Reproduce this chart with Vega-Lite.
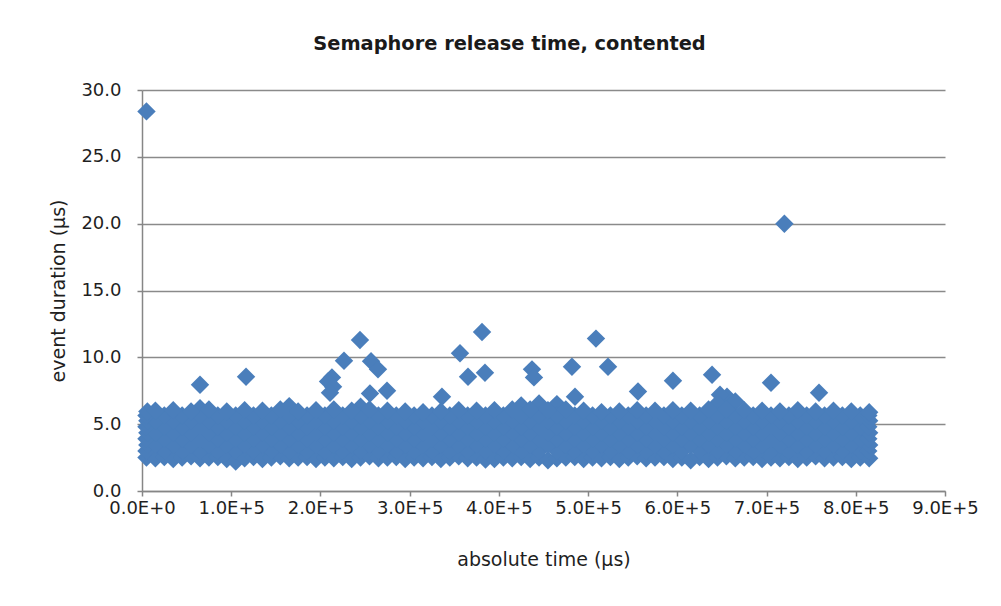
{
  "$schema": "https://vega.github.io/schema/vega-lite/v6.json",
  "width": 803,
  "height": 401,
  "autosize": "none",
  "padding": {"left": 142, "top": 90, "right": 56, "bottom": 115},
  "background": "white",
  "title": {"text": "Semaphore release time, contented", "font": "DejaVu Sans", "fontSize": 19.4, "fontWeight": "bold", "color": "#1a1a1a", "anchor": "middle", "dx": -34, "offset": 27},
  "config": {
    "view": {"stroke": null},
    "axis": {"domainColor": "#868686", "tickColor": "#868686", "gridColor": "#8a8a8a", "domainWidth": 1.5, "tickWidth": 1.5, "gridWidth": 1.5, "tickSize": 5, "labelFont": "DejaVu Sans", "labelFontSize": 18, "labelColor": "#1f1f1f", "titleFont": "DejaVu Sans", "titleFontSize": 19, "titleFontWeight": "normal", "titleColor": "#1f1f1f"}
  },
  "data": {"values": [
    {"time":5000,"dur":28.4},{"time":720000,"dur":20.0},{"time":65000,"dur":7.95},{"time":116600,"dur":8.55},{"time":244300,"dur":11.3},{"time":226400,"dur":9.75},{"time":212900,"dur":8.5},{"time":208500,"dur":8.2},{"time":214100,"dur":7.8},{"time":210700,"dur":7.35},{"time":256700,"dur":9.7},{"time":264500,"dur":9.1},{"time":255500,"dur":7.3},{"time":274600,"dur":7.5},{"time":381100,"dur":11.9},{"time":356400,"dur":10.3},{"time":365400,"dur":8.55},{"time":384400,"dur":8.85},{"time":437100,"dur":9.1},{"time":439300,"dur":8.5},{"time":481900,"dur":9.3},{"time":485300,"dur":7.05},{"time":508800,"dur":11.4},{"time":522300,"dur":9.3},{"time":555900,"dur":7.45},{"time":595100,"dur":8.25},{"time":336200,"dur":7.05},{"time":638900,"dur":8.7},{"time":705000,"dur":8.1},{"time":758800,"dur":7.35},{"time":655700,"dur":7.05},{"time":647800,"dur":7.2},
    {"time":165000,"dur":6.35},{"time":425000,"dur":6.4},{"time":445000,"dur":6.55},{"time":465000,"dur":6.5},{"time":645000,"dur":6.55},{"time":665000,"dur":6.7},{"time":65000,"dur":6.2},{"time":245000,"dur":6.3},
    {"time":5000,"dur":2.5},{"time":15000,"dur":2.45},{"time":25000,"dur":2.55},{"time":35000,"dur":2.4},{"time":45000,"dur":2.5},{"time":55000,"dur":2.6},{"time":65000,"dur":2.45},{"time":75000,"dur":2.5},{"time":85000,"dur":2.55},{"time":95000,"dur":2.4},
    {"time":105000,"dur":2.2},{"time":115000,"dur":2.45},{"time":125000,"dur":2.55},{"time":135000,"dur":2.4},{"time":145000,"dur":2.5},{"time":155000,"dur":2.6},{"time":165000,"dur":2.45},{"time":175000,"dur":2.5},{"time":185000,"dur":2.55},{"time":195000,"dur":2.4},
    {"time":205000,"dur":2.5},{"time":215000,"dur":2.45},{"time":225000,"dur":2.55},{"time":235000,"dur":2.4},{"time":245000,"dur":2.5},{"time":255000,"dur":2.6},{"time":265000,"dur":2.45},{"time":275000,"dur":2.5},{"time":285000,"dur":2.55},{"time":295000,"dur":2.4},
    {"time":305000,"dur":2.5},{"time":315000,"dur":2.45},{"time":325000,"dur":2.55},{"time":335000,"dur":2.4},{"time":345000,"dur":2.5},{"time":355000,"dur":2.6},{"time":365000,"dur":2.45},{"time":375000,"dur":2.5},{"time":385000,"dur":2.35},{"time":395000,"dur":2.4},
    {"time":405000,"dur":2.5},{"time":415000,"dur":2.45},{"time":425000,"dur":2.55},{"time":435000,"dur":2.4},{"time":445000,"dur":2.5},{"time":455000,"dur":2.3},{"time":465000,"dur":2.45},{"time":475000,"dur":2.5},{"time":485000,"dur":2.55},{"time":495000,"dur":2.4},
    {"time":505000,"dur":2.5},{"time":515000,"dur":2.45},{"time":525000,"dur":2.55},{"time":535000,"dur":2.4},{"time":545000,"dur":2.5},{"time":555000,"dur":2.6},{"time":565000,"dur":2.45},{"time":575000,"dur":2.5},{"time":585000,"dur":2.55},{"time":595000,"dur":2.4},
    {"time":605000,"dur":2.5},{"time":615000,"dur":2.3},{"time":625000,"dur":2.55},{"time":635000,"dur":2.4},{"time":645000,"dur":2.5},{"time":655000,"dur":2.6},{"time":665000,"dur":2.45},{"time":675000,"dur":2.5},{"time":685000,"dur":2.55},{"time":695000,"dur":2.4},
    {"time":705000,"dur":2.5},{"time":715000,"dur":2.45},{"time":725000,"dur":2.55},{"time":735000,"dur":2.4},{"time":745000,"dur":2.5},{"time":755000,"dur":2.6},{"time":765000,"dur":2.45},{"time":775000,"dur":2.5},{"time":785000,"dur":2.55},{"time":795000,"dur":2.4},
    {"time":805000,"dur":2.5},{"time":815000,"dur":2.45},
    {"time":5000,"dur":3.0},{"time":25000,"dur":3.0},{"time":45000,"dur":3.0},{"time":65000,"dur":3.0},{"time":85000,"dur":3.0},{"time":105000,"dur":3.0},{"time":125000,"dur":3.0},{"time":145000,"dur":3.0},{"time":165000,"dur":3.0},{"time":185000,"dur":3.0},
    {"time":205000,"dur":3.0},{"time":225000,"dur":3.0},{"time":245000,"dur":3.0},{"time":265000,"dur":3.0},{"time":285000,"dur":3.0},{"time":305000,"dur":3.0},{"time":325000,"dur":3.0},{"time":345000,"dur":3.0},{"time":365000,"dur":3.0},{"time":385000,"dur":3.0},
    {"time":405000,"dur":3.0},{"time":425000,"dur":3.0},{"time":445000,"dur":3.0},{"time":465000,"dur":3.0},{"time":485000,"dur":3.0},{"time":505000,"dur":3.0},{"time":525000,"dur":3.0},{"time":545000,"dur":3.0},{"time":565000,"dur":3.0},{"time":585000,"dur":3.0},
    {"time":605000,"dur":3.0},{"time":625000,"dur":3.0},{"time":645000,"dur":3.0},{"time":665000,"dur":3.0},{"time":685000,"dur":3.0},{"time":705000,"dur":3.0},{"time":725000,"dur":3.0},{"time":745000,"dur":3.0},{"time":765000,"dur":3.0},{"time":785000,"dur":3.0},
    {"time":805000,"dur":3.0},{"time":814000,"dur":3.0},
    {"time":6000,"dur":3.45},{"time":15000,"dur":3.45},{"time":35000,"dur":3.45},{"time":55000,"dur":3.45},{"time":75000,"dur":3.45},{"time":95000,"dur":3.45},{"time":115000,"dur":3.45},{"time":135000,"dur":3.45},{"time":155000,"dur":3.45},{"time":175000,"dur":3.45},
    {"time":195000,"dur":3.45},{"time":215000,"dur":3.45},{"time":235000,"dur":3.45},{"time":255000,"dur":3.45},{"time":275000,"dur":3.45},{"time":295000,"dur":3.45},{"time":315000,"dur":3.45},{"time":335000,"dur":3.45},{"time":355000,"dur":3.45},{"time":375000,"dur":3.45},
    {"time":395000,"dur":3.45},{"time":415000,"dur":3.45},{"time":435000,"dur":3.45},{"time":455000,"dur":3.45},{"time":475000,"dur":3.45},{"time":495000,"dur":3.45},{"time":515000,"dur":3.45},{"time":535000,"dur":3.45},{"time":555000,"dur":3.45},{"time":575000,"dur":3.45},
    {"time":595000,"dur":3.45},{"time":615000,"dur":3.45},{"time":635000,"dur":3.45},{"time":655000,"dur":3.45},{"time":675000,"dur":3.45},{"time":695000,"dur":3.45},{"time":715000,"dur":3.45},{"time":735000,"dur":3.45},{"time":755000,"dur":3.45},{"time":775000,"dur":3.45},
    {"time":795000,"dur":3.45},{"time":815000,"dur":3.45},
    {"time":5000,"dur":3.9},{"time":25000,"dur":3.9},{"time":45000,"dur":3.9},{"time":65000,"dur":3.9},{"time":85000,"dur":3.9},{"time":105000,"dur":3.9},{"time":125000,"dur":3.9},{"time":145000,"dur":3.9},{"time":165000,"dur":3.9},{"time":185000,"dur":3.9},
    {"time":205000,"dur":3.9},{"time":225000,"dur":3.9},{"time":245000,"dur":3.9},{"time":265000,"dur":3.9},{"time":285000,"dur":3.9},{"time":305000,"dur":3.9},{"time":325000,"dur":3.9},{"time":345000,"dur":3.9},{"time":365000,"dur":3.9},{"time":385000,"dur":3.9},
    {"time":405000,"dur":3.9},{"time":425000,"dur":3.9},{"time":445000,"dur":3.9},{"time":465000,"dur":3.9},{"time":485000,"dur":3.9},{"time":505000,"dur":3.9},{"time":525000,"dur":3.9},{"time":545000,"dur":3.9},{"time":565000,"dur":3.9},{"time":585000,"dur":3.9},
    {"time":605000,"dur":3.9},{"time":625000,"dur":3.9},{"time":645000,"dur":3.9},{"time":665000,"dur":3.9},{"time":685000,"dur":3.9},{"time":705000,"dur":3.9},{"time":725000,"dur":3.9},{"time":745000,"dur":3.9},{"time":765000,"dur":3.9},{"time":785000,"dur":3.9},
    {"time":805000,"dur":3.9},{"time":814000,"dur":3.9},
    {"time":6000,"dur":4.35},{"time":15000,"dur":4.35},{"time":35000,"dur":4.35},{"time":55000,"dur":4.35},{"time":75000,"dur":4.35},{"time":95000,"dur":4.35},{"time":115000,"dur":4.35},{"time":135000,"dur":4.35},{"time":155000,"dur":4.35},{"time":175000,"dur":4.35},
    {"time":195000,"dur":4.35},{"time":215000,"dur":4.35},{"time":235000,"dur":4.35},{"time":255000,"dur":4.35},{"time":275000,"dur":4.35},{"time":295000,"dur":4.35},{"time":315000,"dur":4.35},{"time":335000,"dur":4.35},{"time":355000,"dur":4.35},{"time":375000,"dur":4.35},
    {"time":395000,"dur":4.35},{"time":415000,"dur":4.35},{"time":435000,"dur":4.35},{"time":455000,"dur":4.35},{"time":475000,"dur":4.35},{"time":495000,"dur":4.35},{"time":515000,"dur":4.35},{"time":535000,"dur":4.35},{"time":555000,"dur":4.35},{"time":575000,"dur":4.35},
    {"time":595000,"dur":4.35},{"time":615000,"dur":4.35},{"time":635000,"dur":4.35},{"time":655000,"dur":4.35},{"time":675000,"dur":4.35},{"time":695000,"dur":4.35},{"time":715000,"dur":4.35},{"time":735000,"dur":4.35},{"time":755000,"dur":4.35},{"time":775000,"dur":4.35},
    {"time":795000,"dur":4.35},{"time":815000,"dur":4.35},
    {"time":5000,"dur":4.8},{"time":25000,"dur":4.8},{"time":45000,"dur":4.8},{"time":65000,"dur":4.8},{"time":85000,"dur":4.8},{"time":105000,"dur":4.8},{"time":125000,"dur":4.8},{"time":145000,"dur":4.8},{"time":165000,"dur":4.8},{"time":185000,"dur":4.8},
    {"time":205000,"dur":4.8},{"time":225000,"dur":4.8},{"time":245000,"dur":4.8},{"time":265000,"dur":4.8},{"time":285000,"dur":4.8},{"time":305000,"dur":4.8},{"time":325000,"dur":4.8},{"time":345000,"dur":4.8},{"time":365000,"dur":4.8},{"time":385000,"dur":4.8},
    {"time":405000,"dur":4.8},{"time":425000,"dur":4.8},{"time":445000,"dur":4.8},{"time":465000,"dur":4.8},{"time":485000,"dur":4.8},{"time":505000,"dur":4.8},{"time":525000,"dur":4.8},{"time":545000,"dur":4.8},{"time":565000,"dur":4.8},{"time":585000,"dur":4.8},
    {"time":605000,"dur":4.8},{"time":625000,"dur":4.8},{"time":645000,"dur":4.8},{"time":665000,"dur":4.8},{"time":685000,"dur":4.8},{"time":705000,"dur":4.8},{"time":725000,"dur":4.8},{"time":745000,"dur":4.8},{"time":765000,"dur":4.8},{"time":785000,"dur":4.8},
    {"time":805000,"dur":4.8},{"time":814000,"dur":4.8},
    {"time":6000,"dur":5.25},{"time":15000,"dur":5.25},{"time":35000,"dur":5.25},{"time":55000,"dur":5.25},{"time":75000,"dur":5.25},{"time":95000,"dur":5.25},{"time":115000,"dur":5.25},{"time":135000,"dur":5.25},{"time":155000,"dur":5.25},{"time":175000,"dur":5.25},
    {"time":195000,"dur":5.25},{"time":215000,"dur":5.25},{"time":235000,"dur":5.25},{"time":255000,"dur":5.25},{"time":275000,"dur":5.25},{"time":295000,"dur":5.25},{"time":315000,"dur":5.25},{"time":335000,"dur":5.25},{"time":355000,"dur":5.25},{"time":375000,"dur":5.25},
    {"time":395000,"dur":5.25},{"time":415000,"dur":5.25},{"time":435000,"dur":5.25},{"time":455000,"dur":5.25},{"time":475000,"dur":5.25},{"time":495000,"dur":5.25},{"time":515000,"dur":5.25},{"time":535000,"dur":5.25},{"time":555000,"dur":5.25},{"time":575000,"dur":5.25},
    {"time":595000,"dur":5.25},{"time":615000,"dur":5.25},{"time":635000,"dur":5.25},{"time":655000,"dur":5.25},{"time":675000,"dur":5.25},{"time":695000,"dur":5.25},{"time":715000,"dur":5.25},{"time":735000,"dur":5.25},{"time":755000,"dur":5.25},{"time":775000,"dur":5.25},
    {"time":795000,"dur":5.25},{"time":815000,"dur":5.25},
    {"time":5000,"dur":5.65},{"time":25000,"dur":5.65},{"time":45000,"dur":5.65},{"time":65000,"dur":5.65},{"time":85000,"dur":5.65},{"time":105000,"dur":5.65},{"time":125000,"dur":5.65},{"time":145000,"dur":5.65},{"time":165000,"dur":5.65},{"time":185000,"dur":5.65},
    {"time":205000,"dur":5.65},{"time":225000,"dur":5.65},{"time":245000,"dur":5.65},{"time":265000,"dur":5.65},{"time":285000,"dur":5.65},{"time":305000,"dur":5.65},{"time":325000,"dur":5.65},{"time":345000,"dur":5.65},{"time":365000,"dur":5.65},{"time":385000,"dur":5.65},
    {"time":405000,"dur":5.65},{"time":425000,"dur":5.65},{"time":445000,"dur":5.65},{"time":465000,"dur":5.65},{"time":485000,"dur":5.65},{"time":505000,"dur":5.65},{"time":525000,"dur":5.65},{"time":545000,"dur":5.65},{"time":565000,"dur":5.65},{"time":585000,"dur":5.65},
    {"time":605000,"dur":5.65},{"time":625000,"dur":5.65},{"time":645000,"dur":5.65},{"time":665000,"dur":5.65},{"time":685000,"dur":5.65},{"time":705000,"dur":5.65},{"time":725000,"dur":5.65},{"time":745000,"dur":5.65},{"time":765000,"dur":5.65},{"time":785000,"dur":5.65},
    {"time":805000,"dur":5.65},{"time":814000,"dur":5.65},
    {"time":6000,"dur":5.95},{"time":15000,"dur":6.0},{"time":35000,"dur":6.05},{"time":55000,"dur":5.95},{"time":75000,"dur":6.1},{"time":95000,"dur":5.95},{"time":115000,"dur":6.05},{"time":135000,"dur":6.0},{"time":155000,"dur":6.1},{"time":175000,"dur":5.95},
    {"time":195000,"dur":6.05},{"time":215000,"dur":6.1},{"time":235000,"dur":6.0},{"time":255000,"dur":6.1},{"time":275000,"dur":6.0},{"time":295000,"dur":5.95},{"time":315000,"dur":5.9},{"time":335000,"dur":5.95},{"time":355000,"dur":6.05},{"time":375000,"dur":6.0},
    {"time":395000,"dur":6.05},{"time":415000,"dur":6.1},{"time":435000,"dur":6.1},{"time":455000,"dur":6.05},{"time":475000,"dur":6.1},{"time":495000,"dur":6.0},{"time":515000,"dur":5.9},{"time":535000,"dur":5.95},{"time":555000,"dur":6.05},{"time":575000,"dur":6.0},
    {"time":595000,"dur":6.05},{"time":615000,"dur":6.0},{"time":635000,"dur":6.1},{"time":655000,"dur":6.1},{"time":675000,"dur":6.05},{"time":695000,"dur":6.0},{"time":715000,"dur":5.95},{"time":735000,"dur":6.05},{"time":755000,"dur":5.95},{"time":775000,"dur":6.0},
    {"time":795000,"dur":5.95},{"time":815000,"dur":5.9}
  ]},
  "mark": {"type": "point", "shape": "diamond", "filled": true, "size": 340, "color": "#4A7EBB", "opacity": 1, "strokeWidth": 0},
  "encoding": {
    "x": {"field": "time", "type": "quantitative", "scale": {"domain": [0, 900000], "nice": false, "zero": false},
      "axis": {"title": "absolute time (µs)", "values": [0, 100000, 200000, 300000, 400000, 500000, 600000, 700000, 800000, 900000], "labelExpr": "replace(format(datum.value, '.1e'), 'e', 'E')", "grid": false, "labelPadding": 3, "titlePadding": 33, "labelFlush": false, "labelOverlap": false}},
    "y": {"field": "dur", "type": "quantitative", "scale": {"domain": [0, 30], "nice": false},
      "axis": {"title": "event duration (µs)", "values": [0, 5, 10, 15, 20, 25, 30], "format": ".1f", "grid": true, "labelPadding": 16, "titlePadding": 12}}
  }
}
